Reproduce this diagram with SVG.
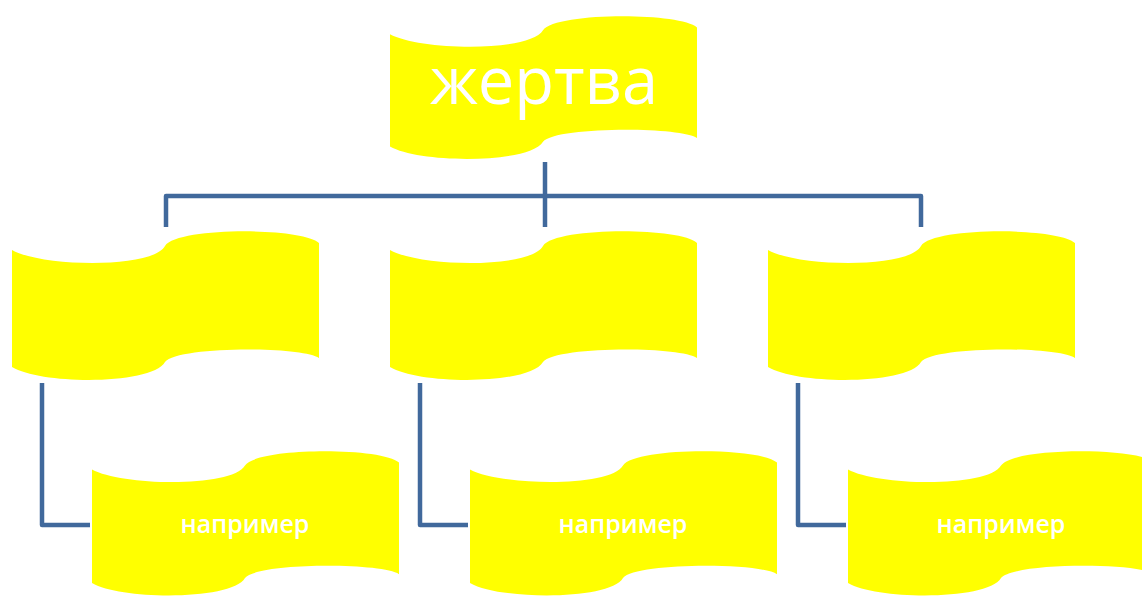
<svg xmlns="http://www.w3.org/2000/svg" width="1142" height="598" viewBox="0 0 1142 598">
  <style>
    .wave { fill: #ffff00; }
    .conn { fill: none; stroke: #41699c; stroke-width: 4.5; stroke-linejoin: round; }
    .lbl { fill: #ffffff; font-family: "Open Sans", "Noto Sans", "Liberation Sans", sans-serif; text-anchor: middle; }
  </style>
  <defs>
    <path id="wave" d="M0,20 C30,37 140,39 153,16 C165,-3 290,-3 307,13 L307,128 C290,116 165,116 153,132 C140,155 30,155 0,137 Z"/>
  </defs>
  <rect width="1142" height="598" fill="#ffffff"/>
  <g id="connectors">
    <path class="conn" d="M545,162 V227"/>
    <path class="conn" d="M166,227 V196 H921 V227"/>
    <path class="conn" d="M42,383 V525 H90"/>
    <path class="conn" d="M420,383 V525 H468"/>
    <path class="conn" d="M798,383 V525 H846"/>
  </g>
  <g id="node-root">
    <use href="#wave" class="wave" transform="translate(390,15) scale(1,0.96)"/>
    <text class="lbl" x="544" y="104" font-size="65">жертва</text>
  </g>
  <g id="node-a">
    <use href="#wave" class="wave" transform="translate(12,230)"/>
  </g>
  <g id="node-b">
    <use href="#wave" class="wave" transform="translate(390,230)"/>
  </g>
  <g id="node-c">
    <use href="#wave" class="wave" transform="translate(768,230)"/>
  </g>
  <g id="node-a1">
    <use href="#wave" class="wave" transform="translate(92,450) scale(1,0.97)"/>
    <text class="lbl" x="245" y="533" font-size="25" font-weight="600">например</text>
  </g>
  <g id="node-b1">
    <use href="#wave" class="wave" transform="translate(470,450) scale(1,0.97)"/>
    <text class="lbl" x="623" y="533" font-size="25" font-weight="600">например</text>
  </g>
  <g id="node-c1">
    <use href="#wave" class="wave" transform="translate(848,450) scale(1,0.97)"/>
    <text class="lbl" x="1001" y="533" font-size="25" font-weight="600">например</text>
  </g>
</svg>
